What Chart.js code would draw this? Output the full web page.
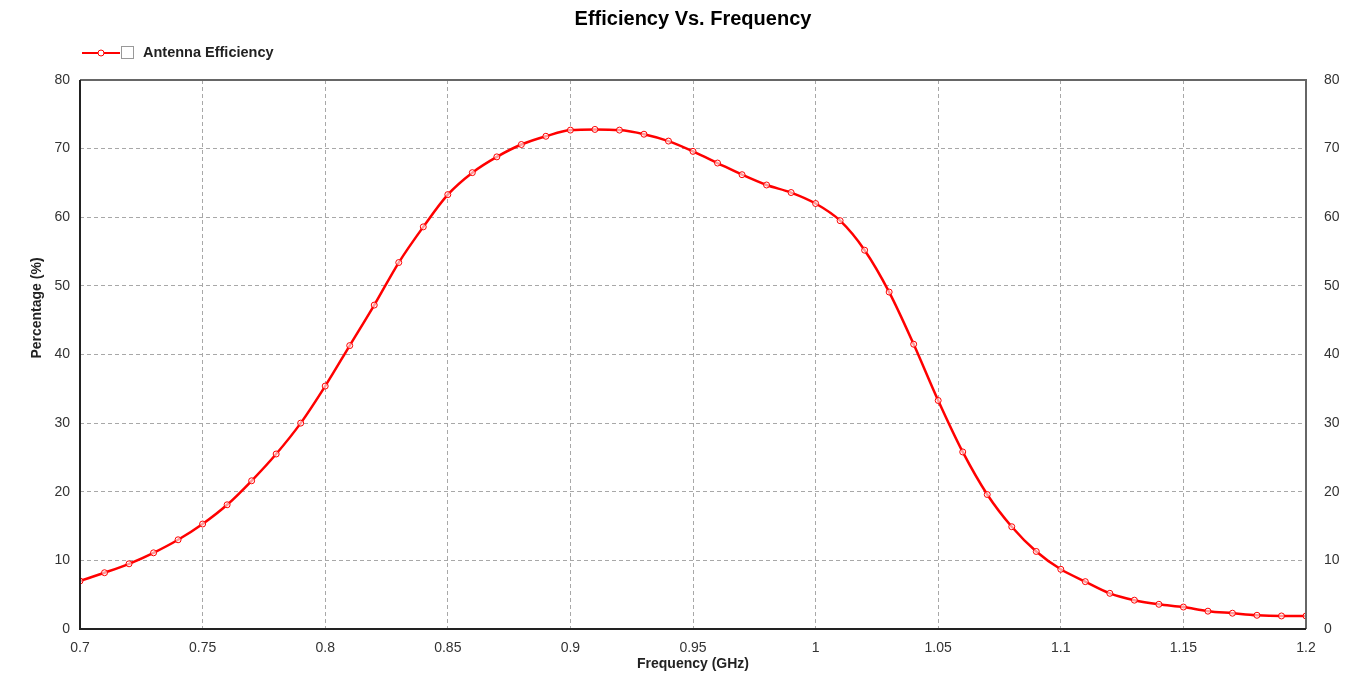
<!DOCTYPE html>
<html>
<head>
<meta charset="utf-8">
<script src="https://cdn.jsdelivr.net/npm/chart.js@4/dist/chart.umd.min.js"></script>
<style>
  body { margin: 0; background: #fff; }
  #wrap { width: 1350px; height: 677px; }
</style>
</head>
<body>
<div id="wrap"><canvas id="effChart" width="1350" height="677"></canvas></div>
<script>
// frequency points (GHz)
const frequencies = [0.70, 0.71, 0.72, 0.73, 0.74, 0.75, 0.76, 0.77, 0.78, 0.79,
    0.80, 0.81, 0.82, 0.83, 0.84, 0.85, 0.86, 0.87, 0.88, 0.89,
    0.90, 0.91, 0.92, 0.93, 0.94, 0.95, 0.96, 0.97, 0.98, 0.99,
    1.00, 1.01, 1.02, 1.03, 1.04, 1.05, 1.06, 1.07, 1.08, 1.09,
    1.10, 1.11, 1.12, 1.13, 1.14, 1.15, 1.16, 1.17, 1.18, 1.19, 1.20];

// antenna efficiency (%)
const efficiency = [7.0, 8.2, 9.5, 11.1, 13.0, 15.3, 18.1, 21.6, 25.5, 30.0,
    35.4, 41.3, 47.2, 53.4, 58.6, 63.3, 66.5, 68.8, 70.6, 71.8,
    72.7, 72.8, 72.7, 72.1, 71.1, 69.6, 67.9, 66.2, 64.7, 63.6,
    62.0, 59.5, 55.2, 49.1, 41.5, 33.3, 25.8, 19.6, 14.9, 11.3,
    8.7, 6.9, 5.2, 4.2, 3.6, 3.2, 2.6, 2.3, 2.0, 1.9, 1.9];

const xTicks = [0.7, 0.75, 0.8, 0.85, 0.9, 0.95, 1, 1.05, 1.1, 1.15, 1.2];
const yTicks = [0, 10, 20, 30, 40, 50, 60, 70, 80];

const seriesName = "Antenna Efficiency";
const red = "#ff0000";

const points = frequencies.map((f, i) => ({ x: f, y: efficiency[i] }));

const tickFont = { family: "'Liberation Sans', Arial, sans-serif", size: 14 };
const boldFont = { family: "'Liberation Sans', Arial, sans-serif", size: 14, weight: 'bold' };
const gridStyle = { color: '#a8a8a8', lineWidth: 1, drawTicks: false };

// box round the plot, legend and rotated y title
const extras = {
    id: 'extras',
    afterDraw(chart) {
        const ctx = chart.ctx;
        const a = chart.chartArea;
        ctx.save();
        ctx.lineWidth = 2;
        ctx.strokeStyle = '#666';
        ctx.beginPath();
        ctx.moveTo(a.left, a.top);
        ctx.lineTo(a.right, a.top);
        ctx.lineTo(a.right, a.bottom);
        ctx.stroke();
        ctx.strokeStyle = '#222';
        ctx.beginPath();
        ctx.moveTo(a.left, a.top);
        ctx.lineTo(a.left, a.bottom);
        ctx.lineTo(a.right, a.bottom);
        ctx.stroke();

        // legend
        ctx.strokeStyle = red;
        ctx.lineWidth = 2;
        ctx.beginPath();
        ctx.moveTo(82, 53);
        ctx.lineTo(120, 53);
        ctx.stroke();
        ctx.lineWidth = 1;
        ctx.fillStyle = '#fff';
        ctx.beginPath();
        ctx.arc(101, 53, 3, 0, Math.PI * 2);
        ctx.fill();
        ctx.stroke();
        ctx.strokeStyle = '#999';
        ctx.fillStyle = '#fff';
        ctx.fillRect(121.5, 46.5, 12, 12);
        ctx.strokeRect(121.5, 46.5, 12, 12);
        ctx.fillStyle = '#222';
        ctx.font = "bold 14.5px 'Liberation Sans', Arial, sans-serif";
        ctx.textBaseline = 'middle';
        ctx.textAlign = 'left';
        ctx.fillText(seriesName, 143, 53);

        // y axis title
        ctx.font = "bold 14px 'Liberation Sans', Arial, sans-serif";
        ctx.translate(37, 308);
        ctx.rotate(-Math.PI / 2);
        ctx.textAlign = 'center';
        ctx.fillText('Percentage (%)', 0, 0);
        ctx.restore();
    }
};

const ctx = document.getElementById('effChart');

new Chart(ctx, {
    type: 'line',
    data: {
        datasets: [{
            label: seriesName,
            data: points,
            borderColor: red,
            borderWidth: 2.5,
            pointRadius: 3,
            pointBorderWidth: 1,
            pointBorderColor: red,
            pointBackgroundColor: 'rgba(255,255,255,0.6)',
            cubicInterpolationMode: 'monotone',
            fill: false
        }]
    },
    options: {
        responsive: false,
        animation: false,
        layout: { padding: 0 },
        plugins: {
            legend: { display: false },
            tooltip: { enabled: false },
            title: {
                display: true,
                text: 'Efficiency Vs. Frequency',
                fullSize: false,
                color: '#000',
                font: { family: "'Liberation Sans', Arial, sans-serif", size: 20, weight: 'bold' },
                padding: { top: 7, bottom: 49 }
            }
        },
        scales: {
            x: {
                type: 'linear',
                min: 0.7,
                max: 1.2,
                afterBuildTicks: (s) => { s.ticks = xTicks.map(v => ({ value: v })); },
                afterFit: (s) => { s.height = 48; },
                ticks: {
                    font: tickFont,
                    color: '#333',
                    padding: 11,
                    maxRotation: 0,
                    callback: (v) => String(parseFloat(v.toFixed(2)))
                },
                grid: gridStyle,
                border: { display: false, dash: [4, 3] },
                title: {
                    display: true,
                    text: 'Frequency (GHz)',
                    color: '#222',
                    font: boldFont,
                    padding: { top: 0, bottom: 4 }
                }
            },
            y: {
                position: 'left',
                min: 0,
                max: 80,
                afterBuildTicks: (s) => { s.ticks = yTicks.map(v => ({ value: v })); },
                afterFit: (s) => { s.width = 80; },
                ticks: { font: tickFont, color: '#333', padding: 10 },
                grid: gridStyle,
                border: { display: false, dash: [4, 3] }
            },
            y2: {
                position: 'right',
                min: 0,
                max: 80,
                afterBuildTicks: (s) => { s.ticks = yTicks.map(v => ({ value: v })); },
                afterFit: (s) => { s.width = 44; },
                ticks: { font: tickFont, color: '#333', padding: 10 },
                grid: { display: false },
                border: { display: false }
            }
        }
    },
    plugins: [extras]
});
</script>
</body>
</html>
